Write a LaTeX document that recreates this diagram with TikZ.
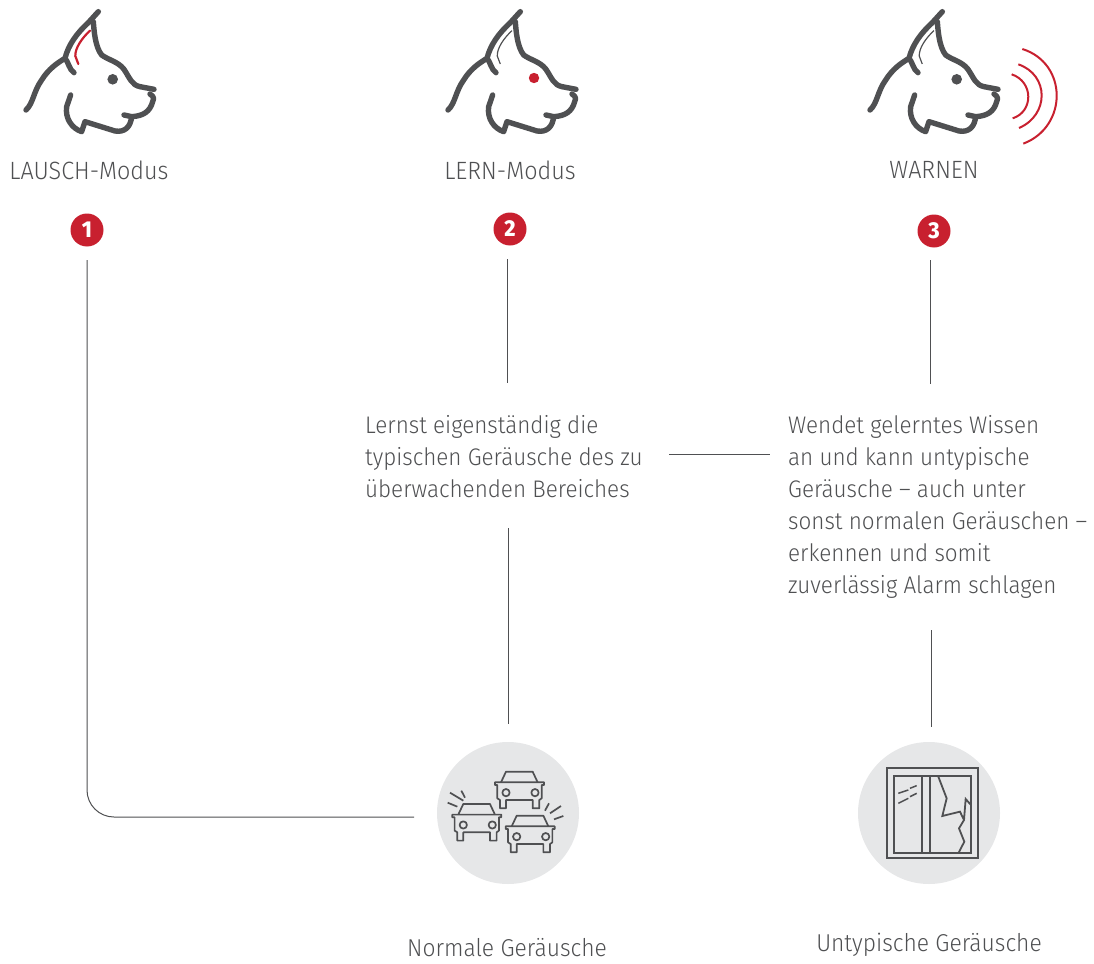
\documentclass[tikz,border=0pt]{standalone}
\usepackage{fontspec}
\setmainfont{Fira Sans}[UprightFont={* Light},FakeStretch=0.935,BoldFont={* ExtraBold}]
\definecolor{ink}{HTML}{4F5052}
\definecolor{redm}{HTML}{C8202F}
\definecolor{disc}{HTML}{E6E7E8}
\tikzset{
 lbl/.style={text=ink,font=\fontsize{24}{32}\selectfont,inner sep=0pt},
 headlbl/.style={lbl,font=\fontsize{25}{32}\selectfont},
 caplbl/.style={lbl,font=\fontsize{24.4}{32}\selectfont},
 para/.style={lbl,align=left,anchor=north west},
 conn/.style={draw=ink,line width=1pt},
 badge/.style={circle,fill=redm,minimum size=33pt,inner sep=0pt,text=white,font=\fontsize{23}{23}\selectfont\bfseries},
 dogline/.style={draw=ink,line width=5.4pt,line cap=round,line join=round},
 iconline/.style={draw=ink,line width=1.7pt,line join=round},
 wave/.style={draw=redm,line width=2pt},
 pics/dog/.style={code={
  \begin{scope}[x=0.3333pt,y=-0.3333pt]
  \path[dogline] (78,330) .. controls (100,310) and (100,275) .. (125,240) .. controls (145,208) and (170,190) .. (195,175)
     .. controls (205,135) and (230,100) .. (265,68) -- (295,35);
  \path[dogline] (280,65) .. controls (282,90) and (285,140) .. (305,165) .. controls (325,180) and (355,185) .. (372,208)
     .. controls (390,235) and (395,255) .. (420,260) -- (462,268);
  \path[dogline] (450,282) .. controls (462,290) and (462,295) .. (458,305) .. controls (450,335) and (430,348) .. (395,350) -- (372,345);
  \path[dogline] (395,350) .. controls (392,380) and (375,398) .. (345,393) -- (255,365) -- (245,395)
     .. controls (215,385) and (195,355) .. (200,320) -- (212,285);
  \path[dogline] (195,175) .. controls (205,185) and (208,210) .. (222,218);
  \end{scope}}},
 car/.pic={
  \begin{scope}[x=0.3333pt,y=-0.3333pt]
  \path[iconline] (225,157) -- (372,157) -- (372,165) -- (365,165) -- (365,205) -- (358,210) -- (358,235) -- (338,235) -- (338,210)
     -- (258,210) -- (258,235) -- (240,235) -- (240,210) -- (232,205) -- (232,165) -- (225,165) -- cycle;
  \path[iconline] (243,157) -- (258,125) -- (338,125) -- (353,157);
  \path[iconline] (258,188) circle[radius=11] (345,188) circle[radius=11];
  \end{scope}}
}
\begin{document}
\begin{tikzpicture}[x=1pt,y=-1pt]
\useasboundingbox (0,0) rectangle (1094,963);
% dogs
\pic at (0,0) {dog};
\pic at (422,0) {dog};
\pic at (844,0) {dog};
\fill[ink] (112.7,79.3) circle[radius=5.3];
\fill[ink] (956.7,79.3) circle[radius=5.3];
\begin{scope}[x=0.3333pt,y=-0.3333pt]
 \draw[redm,line width=2.2pt,line cap=round] (270,92) .. controls (245,115) and (225,145) .. (226,168) -- (235,192);
 \begin{scope}[shift={(1266,0)}]
  \draw[ink,line width=1.2pt] (270,92) .. controls (245,115) and (225,145) .. (226,168) -- (235,192);
 \end{scope}
 \begin{scope}[shift={(2532,0)}]
  \draw[ink,line width=1.2pt] (270,92) .. controls (245,115) and (225,145) .. (226,168) -- (235,192);
 \end{scope}
\end{scope}
\fill[redm] (534,78) circle[radius=5.2];
% sound waves
\begin{scope}[shift={(860,0)},x=0.3333pt,y=-0.3333pt]
 \path[wave] (455,223) .. controls (521,245) and (521,335) .. (458,355);
 \path[wave] (475,193) .. controls (568,225) and (568,345) .. (477,384);
 \path[wave] (487,147) .. controls (624,190) and (624,380) .. (490,431);
\end{scope}
% labels
\node[headlbl] (t1) at (89,170) {LAUSCH-Modus};
\node[headlbl] (t2) at (510,170) {LERN-Modus};
\node[headlbl] (t3) at (934,170) {WARNEN};
\node[badge] (b1) at (87,230) {1};
\node[badge] (b2) at (510,229) {2};
\node[badge] (b3) at (934,231) {3};
\node[para] (p2) at (365,415) {Lernst eigenständig die\\typischen Geräusche des zu\\überwachenden Bereiches};
\node[para] (p3) at (788,415) {Wendet gelerntes Wissen\\an und kann untypische\\Geräusche – auch unter\\sonst normalen Geräuschen –\\erkennen und somit\\zuverlässig Alarm schlagen};
% discs
\node[circle,fill=disc,minimum size=142pt,inner sep=0pt] (d1) at (508,813) {};
\node[circle,fill=disc,minimum size=142pt,inner sep=0pt] (d2) at (929,813) {};
\node[caplbl] (n1) at (507,948) {Normale Geräusche};
\node[caplbl] (n2) at (929,945) {Untypische Geräusche};
% cars
\pic at (420,730) {car};
\pic at (377.3,762.3) {car};
\pic at (430.7,774) {car};
\begin{scope}[shift={(420,730)},x=0.3333pt,y=-0.3333pt]
 \draw[iconline] (90,188) -- (130,212) (124,182) -- (135,203) (83,218) -- (112,230)
   (375,242) -- (387,220) (390,250) -- (423,228) (402,268) -- (430,258);
\end{scope}
% window
\begin{scope}[shift={(845,730)},x=0.3333pt,y=-0.3333pt]
 \draw[draw=ink,line width=2.2pt] (127,115) rectangle (398,385) (148,137) rectangle (378,368)
   (232,137) -- (232,368) (254,137) -- (254,368);
 \draw[draw=ink,line width=1.8pt,line join=miter] (280,140) -- (305,205) -- (292,258) -- (345,245) -- (357,270) -- (342,295) -- (358,335) -- (340,370)
   (357,270) -- (362,207) -- (378,225);
 \draw[draw=ink,line width=1.5pt] (160,190) -- (190,180) (195,175) -- (215,167) (160,220) -- (190,205) (195,200) -- (215,190);
\end{scope}
% connector ends
\coordinate (a1) at (87,260);
\coordinate (a2) at (414,817);
\coordinate (c1) at (507,259);
\coordinate (c2) at (507,383);
\coordinate (c3) at (508,528);
\coordinate (c4) at (508,724);
\coordinate (e1) at (669,454);
\coordinate (e2) at (770,454);
\coordinate (f1) at (930,260);
\coordinate (f2) at (930,384);
\coordinate (g1) at (931,630);
\coordinate (g2) at (931,727);
\draw[conn,rounded corners=27pt] (a1) |- (a2);
\draw[conn] (c1) -- (c2);
\draw[conn] (c3) -- (c4);
\draw[conn] (e1) -- (e2);
\draw[conn] (f1) -- (f2);
\draw[conn] (g1) -- (g2);
\end{tikzpicture}
\end{document}
